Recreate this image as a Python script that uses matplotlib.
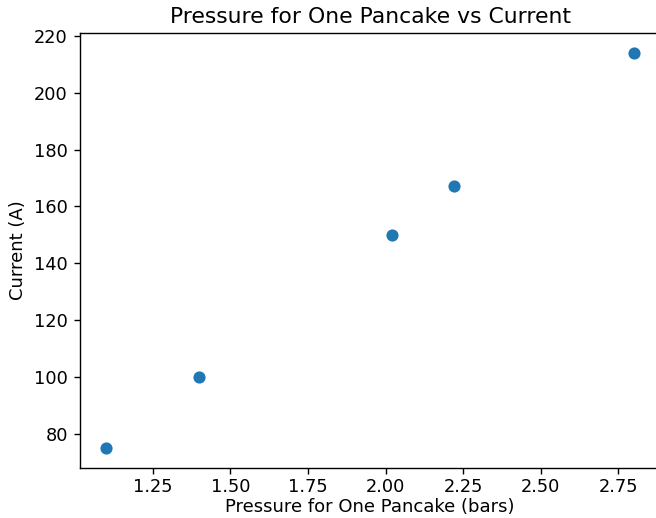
import matplotlib
matplotlib.use('Agg')
from matplotlib import pyplot as plt

# pressure (bars) needed for one pancake and the matching current (A)
pressure = [1.1, 1.4, 2.02, 2.22, 2.8]
current = [75, 100, 150, 167, 214]

DPI = 125
figure = plt.figure(figsize=(656 / DPI, 518 / DPI), dpi=DPI)

# axes run slightly past the right edge of the canvas
ax = figure.add_axes([80 / 656, 50 / 518, 580 / 656, 435 / 518])
ax.scatter(pressure, current)

ax.set_xlabel('Pressure for One Pancake (bars)', fontsize=10.4, labelpad=1)
ax.set_ylabel('Current (A)', fontsize=10.4)
ax.set_title('Pressure for One Pancake vs Current', fontsize=12.6)
ax.tick_params(axis='both', labelsize=10.2)
ax.tick_params(axis='x', pad=2.5)

figure.savefig('out.png', dpi=DPI)
